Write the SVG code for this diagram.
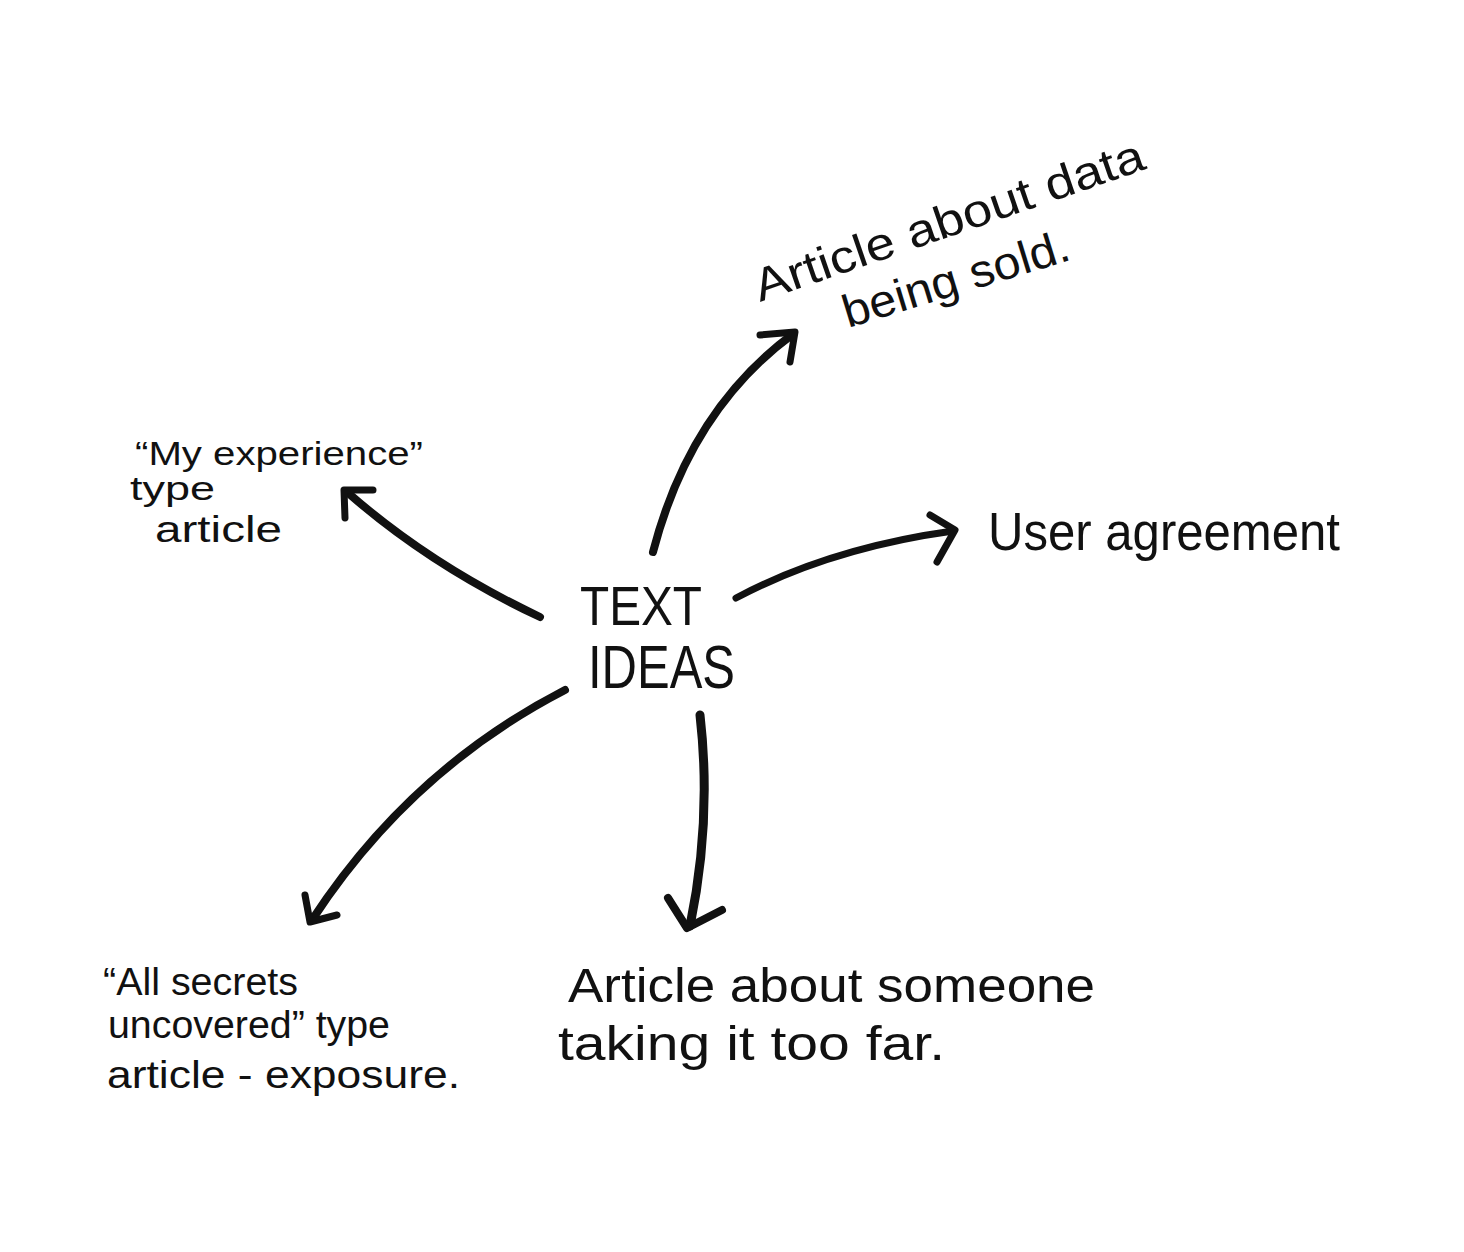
<svg xmlns="http://www.w3.org/2000/svg" width="1464" height="1252" viewBox="0 0 1464 1252">
<style>
.t{font-family:"Liberation Sans",Arial,sans-serif;fill:#111;}
.c{fill:none;stroke:#111;stroke-linecap:round;stroke-linejoin:round;}
</style>
<rect width="1464" height="1252" fill="#ffffff"/>
<g id="center">
<text class="t" x="580" y="625" font-size="56" textLength="122" lengthAdjust="spacingAndGlyphs">TEXT</text>
<text class="t" x="588" y="688" font-size="62" textLength="147" lengthAdjust="spacingAndGlyphs">IDEAS</text>
</g>
<g id="data-sold">
<text class="t" font-size="46" transform="translate(760,302) rotate(-19)" textLength="410" lengthAdjust="spacingAndGlyphs">Article about data</text>
<text class="t" font-size="46" transform="translate(848,328) rotate(-17)" textLength="235" lengthAdjust="spacingAndGlyphs">being sold.</text>
</g>
<g id="my-experience">
<text class="t" x="135" y="465" font-size="34" textLength="288" lengthAdjust="spacingAndGlyphs">“My experience”</text>
<text class="t" x="130" y="500" font-size="34" textLength="85" lengthAdjust="spacingAndGlyphs">type</text>
<text class="t" x="155" y="542" font-size="36" textLength="127" lengthAdjust="spacingAndGlyphs">article</text>
</g>
<g id="user-agreement">
<text class="t" x="988" y="550" font-size="54" textLength="352" lengthAdjust="spacingAndGlyphs">User agreement</text>
</g>
<g id="all-secrets">
<text class="t" x="103" y="995" font-size="38" textLength="195" lengthAdjust="spacingAndGlyphs">“All secrets</text>
<text class="t" x="108" y="1038" font-size="38" textLength="282" lengthAdjust="spacingAndGlyphs">uncovered” type</text>
<text class="t" x="107" y="1088" font-size="38" textLength="353" lengthAdjust="spacingAndGlyphs">article - exposure.</text>
</g>
<g id="someone">
<text class="t" x="568" y="1002" font-size="48" textLength="527" lengthAdjust="spacingAndGlyphs">Article about someone</text>
<text class="t" x="558" y="1060" font-size="48" textLength="387" lengthAdjust="spacingAndGlyphs">taking it too far.</text>
</g>
<g id="connectors">
<path class="c" stroke-width="8" d="M653,552 Q690,410 793,334"/>
<path class="c" stroke-width="7" d="M760,335 L795,332 L790,362"/>
<path class="c" stroke-width="8" d="M540,617 Q430,565 347,492"/>
<path class="c" stroke-width="7" d="M345,518 L344,490 L373,490"/>
<path class="c" stroke-width="7" d="M736,598 Q830,548 953,531"/>
<path class="c" stroke-width="7" d="M930,515 L955,530 L937,562"/>
<path class="c" stroke-width="8" d="M565,690 Q410,770 312,920"/>
<path class="c" stroke-width="7" d="M305,895 L310,922 L337,915"/>
<path class="c" stroke-width="9" d="M700,715 Q712,820 690,926"/>
<path class="c" stroke-width="8" d="M668,898 L687,928 L722,910"/>
</g>
</svg>
